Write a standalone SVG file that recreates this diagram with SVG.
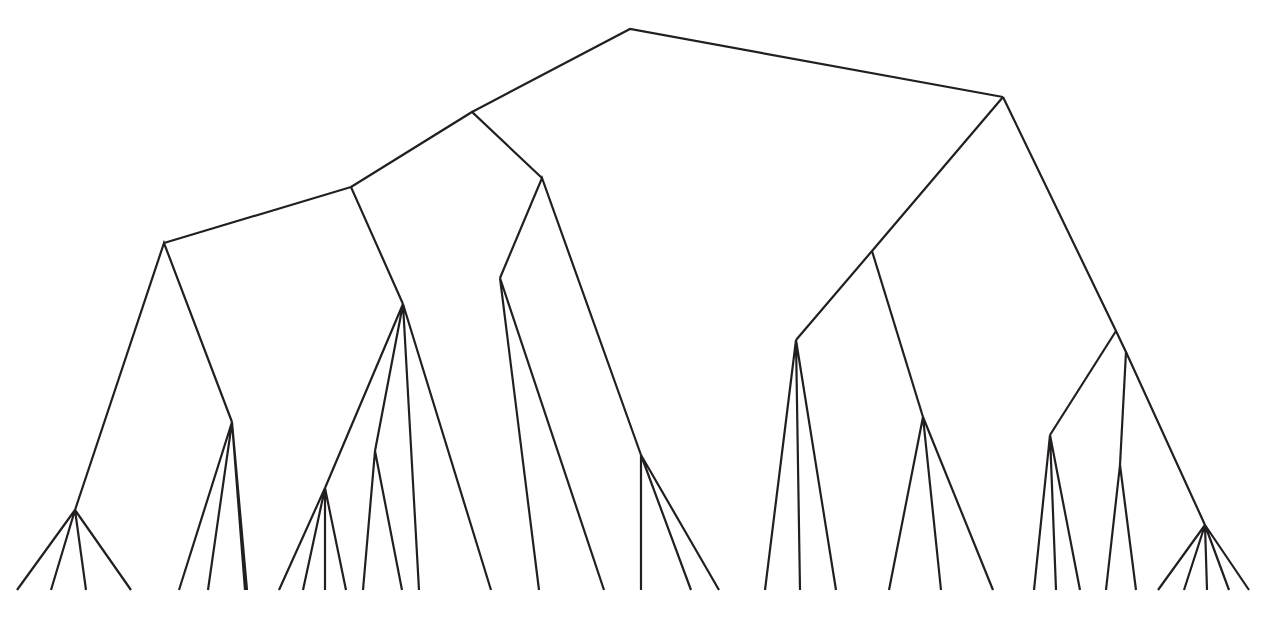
<svg xmlns="http://www.w3.org/2000/svg" width="1263" height="623" viewBox="0 0 1263 623">
<style>
.e{fill:none;stroke:#231f20;stroke-width:2.2;stroke-linecap:butt;stroke-linejoin:miter}
</style>
<rect width="1263" height="623" fill="#fff"/>
<g id="connectors" class="e">
<path d="M472,112 L630,29 L1003,97"/>
<path d="M351,187 L472,112 L542,178"/>
<path d="M164,243 L351,187 L403,304"/>
<path d="M75,510 L164,243 L232,422"/>
<path d="M17,590 L75,510 L51,590 M75,510 L86,590 M75,510 L131,590"/>
<path d="M179,590 L232,422 L208,590 M232,422 L245,590 M232,422 L247,590"/>
<path d="M325,488 L403,304 L375,451 M403,304 L419,590 M403,304 L491,590"/>
<path d="M279,590 L325,488 L303,590 M325,488 L325,590 M325,488 L346,590"/>
<path d="M363,590 L375,451 L402,590"/>
<path d="M500,278 L542,178 L641,455"/>
<path d="M539,590 L500,278 L604,590"/>
<path d="M641,590 L641,455 L691,590 M641,455 L719,590"/>
<path d="M1003,97 L872,251 L796,340"/>
<path d="M872,251 L923,417"/>
<path d="M889,590 L923,417 L941,590 M923,417 L993,590"/>
<path d="M765,590 L796,340 L800,590 M796,340 L836,590"/>
<path d="M1003,97 L1116,331 L1126,352 L1205,525"/>
<path d="M1116,331 L1050,435"/>
<path d="M1126,352 L1120,465"/>
<path d="M1034,590 L1050,435 L1056,590 M1050,435 L1080,590"/>
<path d="M1106,590 L1120,465 L1136,590"/>
<path d="M1158,590 L1205,525 L1184,590 M1205,525 L1207,590 M1205,525 L1229,590 M1205,525 L1249,590"/>
</g>
</svg>
